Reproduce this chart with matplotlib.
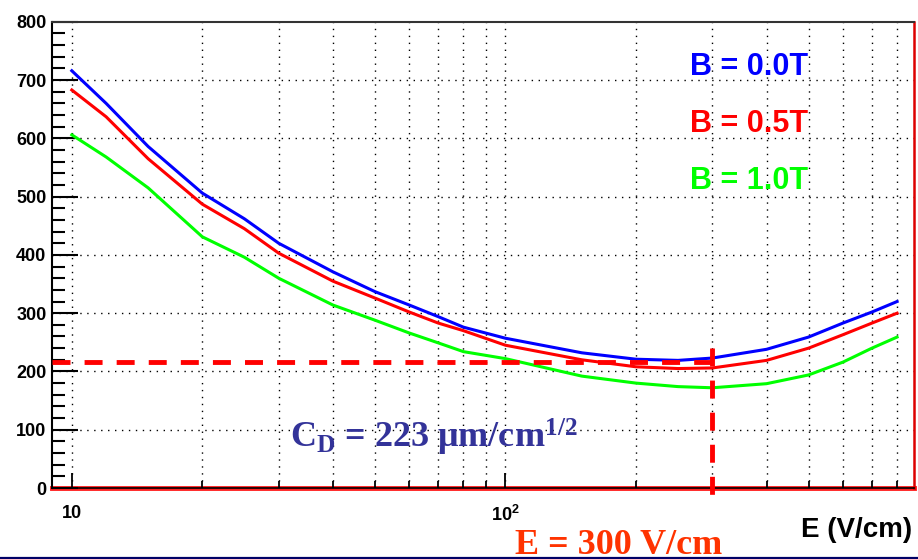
import matplotlib
matplotlib.use("Agg")
import matplotlib.pyplot as plt
from matplotlib.ticker import FixedLocator, NullFormatter, MultipleLocator

# drift field (V/cm) and transverse diffusion for three B fields
field = [10, 12, 15, 20, 25, 30, 40, 50, 60, 70, 80, 100, 150, 200, 250, 300, 400, 500, 600, 700, 800]
diff_b00 = [716, 660, 586, 506, 462, 420, 371, 337, 314, 294, 276, 257, 232, 221, 219, 223, 238, 259, 283, 302, 320]
diff_b05 = [683, 637, 565, 487, 445, 403, 355, 326, 302, 283, 270, 245, 220, 208, 205, 206, 219, 240, 263, 283, 300]
diff_b10 = [606, 568, 515, 431, 396, 360, 314, 288, 266, 249, 234, 222, 192, 180, 174, 172, 179, 194, 216, 240, 259]
series_labels = ["B = 0.0T", "B = 0.5T", "B = 1.0T"]
series_colors = ["#0000FF", "#FF0000", "#00FF00"]

cd_value = 217      # dashed horizontal marker
e_value = 300       # dashed vertical marker

plt.rcParams['mathtext.fontset'] = 'custom'
plt.rcParams['mathtext.rm'] = 'Liberation Serif:bold'
plt.rcParams['mathtext.it'] = 'Liberation Serif:bold'
plt.rcParams['mathtext.bf'] = 'Liberation Serif:bold'
plt.rcParams['mathtext.sf'] = 'Liberation Sans:bold'

fig = plt.figure(figsize=(9.18, 5.59), dpi=100)
ax = fig.add_axes([0.0566, 0.127, 0.939, 0.834])

for vals, col in zip([diff_b00, diff_b05, diff_b10], series_colors):
    ax.plot(field, vals, color=col, lw=2.2, zorder=3)

ax.set_xscale('log')
ax.set_xlim(9.0, 875)
ax.set_ylim(0, 800)

# grid on every decade sub-division
grid_x = [10, 20, 30, 40, 50, 60, 70, 80, 90, 100, 200, 300, 400, 500, 600, 700, 800]
for gx in grid_x:
    ax.axvline(gx, color='black', lw=1, ls=(0, (1, 4)), zorder=1)
for gy in range(100, 800, 100):
    ax.axhline(gy, color='black', lw=1, ls=(0, (1, 4)), zorder=1)

ax.xaxis.set_major_locator(FixedLocator([10, 100]))
ax.xaxis.set_minor_locator(FixedLocator([20, 30, 40, 50, 60, 70, 80, 90, 200, 300, 400, 500, 600, 700, 800]))
ax.xaxis.set_minor_formatter(NullFormatter())
ax.set_xticklabels(["10", r"$\mathsf{10^{2}}$"])
ax.yaxis.set_major_locator(MultipleLocator(100))
ax.yaxis.set_minor_locator(MultipleLocator(20))

ax.tick_params(axis='x', which='major', direction='in', length=11, width=1.3, pad=12,
               labelsize=13, top=False)
ax.tick_params(axis='x', which='minor', direction='in', length=5, width=1.3, top=False)
ax.tick_params(axis='y', which='major', direction='in', length=19, width=1.5, pad=4,
               labelsize=13, right=False)
ax.tick_params(axis='y', which='minor', direction='in', length=9, width=1.5, right=False)
for lab in ax.get_xticklabels() + ax.get_yticklabels():
    lab.set_fontfamily('Liberation Sans')
    lab.set_fontweight('bold')

ax.spines['left'].set_linewidth(1.5)
ax.spines['top'].set_linewidth(1.5)
ax.spines['top'].set_color('#333333')
ax.spines['right'].set_color('#DD0000')
ax.spines['right'].set_linewidth(1.8)
ax.spines['bottom'].set_color('black')
ax.spines['bottom'].set_linewidth(1.2)
ax.axhline(0, color='#FF2020', lw=3.5, zorder=0, clip_on=False)

# dashed markers for the operating point
ax.plot([9.0, e_value], [cd_value, cd_value], color='#FF0000', lw=3.5,
        ls=(0, (3.7, 2.9)), zorder=4)
ax.plot([e_value, e_value], [240, -12], color='#FF0000', lw=3.5,
        ls=(0, (3.7, 2.9)), zorder=4, clip_on=False)

# legend as coloured text
for i, (lab, col) in enumerate(zip(series_labels, series_colors)):
    fig.text(0.8155, 1 - (67 + 57 * i) / 559, lab, color=col, fontsize=22,
             fontfamily='Liberation Sans', fontweight='bold', ha='center', va='center')

fig.text(912 / 918, 1 - 530 / 559, "E (V/cm)", fontsize=20, fontfamily='Liberation Sans',
         fontweight='bold', ha='right', va='center')

fig.text(290 / 918, 1 - 448 / 559, r"C$_\mathrm{D}$ = 223 μm/cm$^\mathrm{1/2}$",
         color='#333399', fontsize=26, fontfamily='Liberation Serif', fontweight='bold',
         ha='left', va='baseline')
fig.text(515 / 918, 5 / 559, "E = 300 V/cm", color='#FF3300', fontsize=26,
         fontfamily='Liberation Serif', fontweight='bold', ha='left', va='baseline')

# navy rule along the bottom edge
fig.add_artist(plt.Line2D([0, 1], [1.5 / 559, 1.5 / 559], color='#000066', lw=1.6,
                          transform=fig.transFigure))

fig.savefig("out.png", dpi=100)
